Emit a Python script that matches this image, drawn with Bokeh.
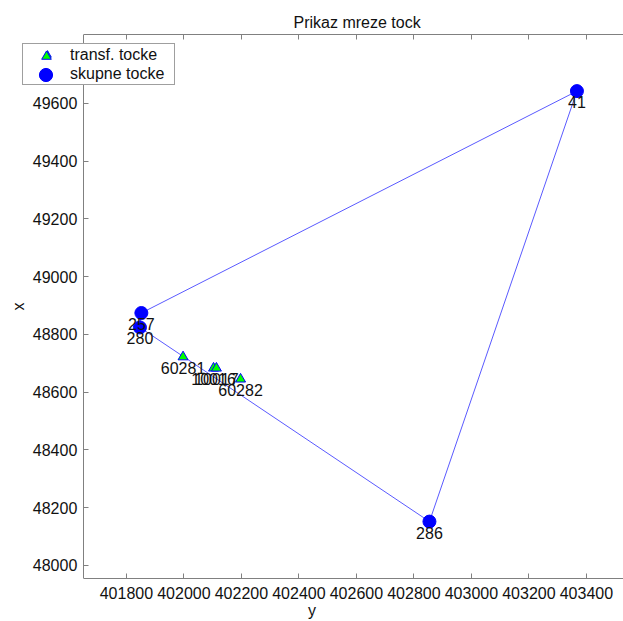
from bokeh.plotting import figure
from bokeh.models import (Range1d, LinearAxis, Legend, LegendItem, ColumnDataSource,
                          FixedTicker, BasicTickFormatter)
from bokeh.core.properties import value
from bokeh.embed import file_html
from bokeh.resources import INLINE

# common points (skupne tocke)
common_names = ["41", "286", "257", "280"]
common_e = [403367, 402854, 401852, 401847]   # plotted on horizontal axis ("y")
common_n = [49642, 48152, 48874, 48824]       # plotted on vertical axis ("x")

# transformed points (transf. tocke)
trans_names = ["60281", "10016", "10017", "60282"]
trans_e = [401997, 402103, 402113, 402197]
trans_n = [48722, 48683, 48683, 48645]

# network outline order
net_order = ["257", "41", "286", "280", "257"]

xticks = [401800, 402000, 402200, 402400, 402600, 402800, 403000, 403200, 403400]
yticks = [48000, 48200, 48400, 48600, 48800, 49000, 49200, 49400, 49600]

X0, X1 = 401650, 403529   # axes box (left edge of box, right edge)
FONT = "Liberation Sans"
FS = "16px"
INK = "#111111"
AXC = "#808080"

p = figure(width=623, height=621, output_backend="svg", toolbar_location=None,
           x_range=Range1d(401362, X1), y_range=Range1d(47955, 49838),
           x_axis_location=None, y_axis_location=None,
           min_border_left=0, min_border_right=0, min_border_top=34, min_border_bottom=42,
           title="Prikaz mreze tock")
p.title.align = "left"
p.title.offset = 293
p.title.standoff = 8
p.title.text_font = FONT
p.title.text_font_size = FS
p.title.text_font_style = "normal"
p.title.text_color = INK
p.grid.visible = False
p.outline_line_color = None
p.background_fill_color = "white"
p.border_fill_color = "white"


def style(ax):
    ax.major_label_text_font = FONT
    ax.major_label_text_font_size = FS
    ax.major_label_text_color = INK
    ax.axis_label_text_font = FONT
    ax.axis_label_text_font_size = FS
    ax.axis_label_text_font_style = "normal"
    ax.axis_label_text_color = INK
    ax.major_tick_in = 5
    ax.major_tick_out = 0
    ax.minor_tick_in = 0
    ax.minor_tick_out = 0
    ax.axis_line_color = AXC
    ax.major_tick_line_color = AXC


xax = LinearAxis(ticker=FixedTicker(ticks=xticks),
                 formatter=BasicTickFormatter(use_scientific=False),
                 axis_label="y", bounds=(X0, X1))
style(xax)
xax.major_label_standoff = 8
xax.axis_label_standoff = 0
p.add_layout(xax, "below")

top = LinearAxis(ticker=FixedTicker(ticks=xticks), bounds=(X0, X1),
                 major_label_overrides={t: "" for t in xticks})
style(top)
top.major_label_text_font_size = "1px"
top.major_label_standoff = 0
p.add_layout(top, "above")

yax = LinearAxis(ticker=FixedTicker(ticks=yticks),
                 formatter=BasicTickFormatter(use_scientific=False),
                 axis_label="x", fixed_location=X0)
style(yax)
yax.major_label_standoff = 6
yax.axis_label_standoff = 3
p.add_layout(yax, "left")

lookup = dict(zip(common_names, zip(common_e, common_n)))
p.line([lookup[n][0] for n in net_order], [lookup[n][1] for n in net_order],
       line_color="#5a5aff", line_width=1)

src_c = ColumnDataSource(dict(x=common_e, y=common_n, t=common_names))
src_t = ColumnDataSource(dict(x=trans_e, y=trans_n, t=trans_names))

r_t = p.scatter("x", "y", source=src_t, marker="triangle", size=10,
                fill_color="#00ff00", line_color="#0000ff", line_width=1)
r_c = p.scatter("x", "y", source=src_c, marker="circle", size=13,
                fill_color="#0000ff", line_color="#0000ff")

for src in (src_c, src_t):
    p.text("x", "y", text="t", source=src, text_align="center", text_baseline="top",
           y_offset=5, text_font=value(FONT), text_font_size=FS, text_color=INK)

# main legend box with labels
legend = Legend(items=[LegendItem(label="transf. tocke", renderers=[r_t]),
                       LegendItem(label="skupne tocke", renderers=[r_c])],
                location=(22, 493))
legend.label_text_font = FONT
legend.label_text_font_size = FS
legend.label_text_color = INK
legend.glyph_height = 19
legend.glyph_width = 46
legend.label_height = 17
legend.label_width = 103
legend.label_standoff = 0
legend.spacing = 0
legend.padding = 1
legend.margin = 0
legend.border_line_color = "#404040"
legend.border_line_width = 1
legend.background_fill_color = "white"
legend.background_fill_alpha = 1
p.add_layout(legend, "center")

# overlay legends with full-size markers (transparent, no border)
for rend, gsize, loc in [(r_t, 24, (34, 510)), (r_c, 33, (29, 487))]:
    lg = Legend(items=[LegendItem(label=" ", renderers=[rend])], location=loc)
    lg.glyph_height = gsize
    lg.glyph_width = gsize
    lg.label_height = 10
    lg.label_width = 0
    lg.label_standoff = 0
    lg.label_text_font_size = "10px"
    lg.padding = 0
    lg.margin = 0
    lg.spacing = 0
    lg.border_line_color = None
    lg.background_fill_alpha = 0
    p.add_layout(lg, "center")

open("out.html", "w").write(file_html(p, INLINE))
